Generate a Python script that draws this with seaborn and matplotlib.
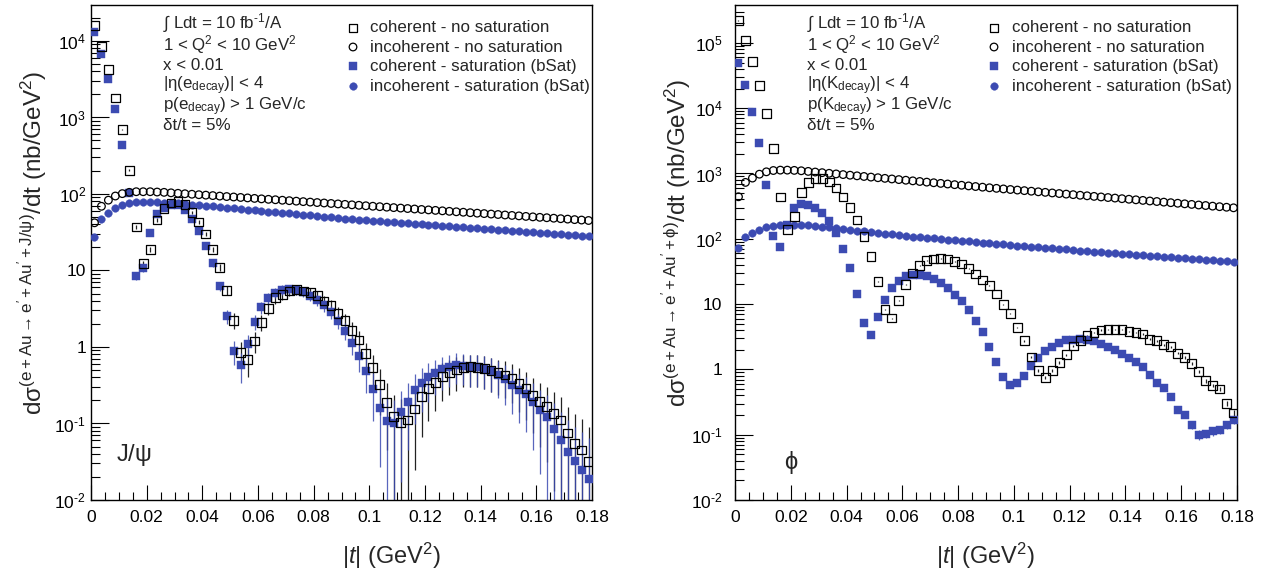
import numpy as np
import matplotlib
matplotlib.use("Agg")
import matplotlib.pyplot as plt
import seaborn as sns
from matplotlib.ticker import MultipleLocator, FixedLocator, FuncFormatter, NullFormatter

# ---------------- data ----------------
T_BIN_WIDTH = 0.0025
N_BINS = 72
t = (np.arange(N_BINS) + 0.5) * T_BIN_WIDTH

# J/psi panel
jpsi_coh = [16000, 8500, 4200, 1800, 700, 205, 37, 12.3, 19, 45.6,
            65, 76, 80, 72, 57, 43, 30, 19, 11, 5.5,
            2.24, 0.85, 0.68, 1.2, 2.1, 3.2, 4.4, 4.9, 5.4, 5.6,
            5.4, 5.1, 4.7, 4.0, 3.46, 2.77, 2.2, 1.66, 1.23, 0.83,
            0.54, 0.32, 0.19, 0.123, 0.103, 0.111, 0.155, 0.224, 0.285, 0.34,
            0.41, 0.46, 0.50, 0.54, 0.55, 0.54, 0.52, 0.49, 0.46, 0.43,
            0.39, 0.335, 0.29, 0.234, 0.195, 0.166, 0.135, 0.111, 0.075, 0.055,
            0.045, 0.032]
jpsi_coh_err = [42, 30.6, 21.5, 14, 8.8, 4.7, 2.0, 1.16, 1.45, 2.24,
                2.67, 2.9, 2.97, 2.8, 2.5, 2.17, 1.82, 1.45, 1.1, 0.78,
                0.50, 0.31, 0.27, 0.36, 0.48, 0.59, 0.70, 0.73, 0.77, 0.78,
                0.77, 0.75, 0.72, 0.66, 0.62, 0.55, 0.49, 0.43, 0.37, 0.30,
                0.24, 0.19, 0.145, 0.116, 0.106, 0.11, 0.13, 0.157, 0.177, 0.193,
                0.212, 0.225, 0.235, 0.244, 0.246, 0.244, 0.239, 0.232, 0.225, 0.217,
                0.207, 0.192, 0.179, 0.16, 0.146, 0.135, 0.122, 0.11, 0.091, 0.078,
                0.070, 0.059]
jpsi_inc = [42, 69, 83, 94, 101, 105, 107, 107, 107, 106,
            105, 103.5, 102.0, 100.6, 99.2, 97.8, 96.5, 95.2, 93.8, 92.5,
            91.3, 90.0, 88.8, 87.5, 86.3, 85.1, 84.0, 82.8, 81.7, 80.5,
            79.4, 78.3, 77.2, 76.2, 75.1, 74.1, 73.1, 72.1, 71.1, 70.1,
            69.1, 68.2, 67.2, 66.3, 65.4, 64.5, 63.6, 62.7, 61.9, 61.0,
            60.2, 59.3, 58.5, 57.7, 56.9, 56.1, 55.4, 54.6, 53.9, 53.1,
            52.4, 51.7, 50.9, 50.2, 49.5, 48.9, 48.2, 47.5, 46.9, 46.2,
            45.6, 45.0]
jpsi_coh_sat = [13000, 6800, 3200, 1300, 440, 102, 8.5, 10.7, 31, 54,
                66, 72, 71, 61, 47, 33, 21, 12.4, 6.2, 2.54,
                0.89, 0.59, 1.1, 2.14, 3.3, 4.36, 5.1, 5.6, 5.7, 5.6,
                5.3, 4.7, 4.1, 3.5, 2.9, 2.2, 1.64, 1.14, 0.76, 0.48,
                0.285, 0.16, 0.108, 0.10, 0.142, 0.19, 0.27, 0.335, 0.40, 0.46,
                0.51, 0.55, 0.58, 0.57, 0.55, 0.54, 0.52, 0.49, 0.435, 0.38,
                0.32, 0.275, 0.24, 0.19, 0.15, 0.123, 0.086, 0.061, 0.043, 0.032,
                0.025, 0.019]
jpsi_coh_sat_err = [37.8, 27.3, 18.8, 12, 7, 3.35, 0.97, 1.08, 1.85, 2.44,
                    2.7, 2.8, 2.8, 2.6, 2.27, 1.9, 1.52, 1.17, 0.83, 0.53,
                    0.31, 0.25, 0.35, 0.49, 0.60, 0.69, 0.75, 0.78, 0.79, 0.78,
                    0.76, 0.72, 0.67, 0.62, 0.56, 0.49, 0.42, 0.35, 0.29, 0.23,
                    0.177, 0.133, 0.109, 0.105, 0.125, 0.145, 0.172, 0.192, 0.21, 0.225,
                    0.237, 0.246, 0.253, 0.25, 0.246, 0.244, 0.239, 0.232, 0.219, 0.204,
                    0.188, 0.174, 0.162, 0.145, 0.128, 0.116, 0.097, 0.082, 0.069, 0.059,
                    0.052, 0.046]
jpsi_inc_sat = [27, 47, 56, 65, 72, 76, 78, 78.5, 78.5, 78,
                77.3, 76.4, 75.4, 74.2, 72.8, 71.4, 70.0, 68.7, 67.4, 66.1,
                64.9, 63.6, 62.4, 61.2, 60.1, 58.9, 57.8, 56.7, 55.6, 54.6,
                53.5, 52.5, 51.5, 50.5, 49.6, 48.6, 47.7, 47.0, 46.3, 45.6,
                44.9, 44.2, 43.5, 42.9, 42.2, 41.6, 41.0, 40.3, 39.7, 39.1,
                38.5, 38.0, 37.4, 36.8, 36.3, 35.7, 35.2, 34.7, 34.1, 33.6,
                33.1, 32.6, 32.1, 31.6, 31.2, 30.7, 30.2, 29.8, 29.3, 28.9,
                28.4, 28.0]

# phi panel
phi_coh = [2.2e5, 1.1e5, 5.2e4, 2.2e4, 8400, 2400, 436, 138, 217, 508,
           735, 832, 832, 740, 600, 436, 303, 194, 109, 54,
           22.4, 8.2, 6.1, 11.2, 19.8, 29.9, 39.2, 46.2, 49, 50.2,
           49, 45.2, 41.1, 34.8, 28.9, 23.4, 19.1, 14.3, 9.8, 7.1,
           4.4, 2.75, 1.55, 0.95, 0.76, 0.95, 1.28, 1.68, 2.28, 2.75,
           3.28, 3.70, 4.0, 4.06, 4.06, 4.06, 3.83, 3.70, 3.48, 2.89,
           2.75, 2.39, 2.23, 1.77, 1.53, 1.24, 0.92, 0.67, 0.57, 0.50,
           0.30, 0.215]
phi_coh_err = [23.5, 16.6, 11.4, 7.4, 4.6, 2.45, 1.04, 0.59, 0.74, 1.13,
               1.36, 1.44, 1.44, 1.36, 1.22, 1.04, 0.87, 0.70, 0.52, 0.37,
               0.24, 0.14, 0.12, 0.17, 0.22, 0.27, 0.31, 0.34, 0.35, 0.35,
               0.35, 0.34, 0.32, 0.29, 0.27, 0.24, 0.22, 0.19, 0.16, 0.13,
               0.10, 0.083, 0.062, 0.049, 0.044, 0.049, 0.057, 0.065, 0.075, 0.083,
               0.091, 0.096, 0.10, 0.10, 0.10, 0.10, 0.098, 0.096, 0.093, 0.085,
               0.083, 0.077, 0.075, 0.067, 0.062, 0.056, 0.048, 0.041, 0.038, 0.035,
               0.027, 0.023]
phi_inc = [440, 730, 850, 975, 1060, 1110, 1125, 1125, 1115, 1100,
           1076, 1052, 1029, 1006, 984, 962, 941, 920, 900, 880,
           861, 842, 824, 806, 788, 771, 754, 737, 721, 705,
           690, 674, 660, 645, 631, 617, 604, 592, 580, 568,
           557, 546, 535, 524, 514, 503, 493, 483, 474, 464,
           455, 446, 437, 428, 420, 411, 403, 395, 387, 379,
           372, 364, 357, 350, 343, 336, 329, 323, 316, 310,
           304, 298]
phi_coh_sat = [4.9e4, 2.24e4, 8800, 2960, 674, 110, 74, 164, 296, 345,
               333, 293, 248, 185, 123, 70, 35.7, 14.4, 5.1, 3.4,
               6.4, 11.7, 17.7, 22.8, 26.7, 28.2, 28.2, 26.7, 24.5, 21.0,
               17.7, 13.9, 11.0, 8.0, 5.6, 3.7, 2.2, 1.31, 0.77, 0.57,
               0.61, 0.80, 1.11, 1.5, 1.89, 2.2, 2.54, 2.79, 2.85, 2.9,
               2.85, 2.69, 2.45, 2.2, 1.96, 1.74, 1.5, 1.31, 1.09, 0.81,
               0.62, 0.52, 0.38, 0.24, 0.20, 0.142, 0.10, 0.104, 0.113, 0.118,
               0.142, 0.166]
phi_coh_sat_err = [11, 7.5, 4.7, 2.7, 1.3, 0.52, 0.43, 0.64, 0.86, 0.93,
                   0.91, 0.86, 0.79, 0.68, 0.55, 0.42, 0.30, 0.19, 0.11, 0.092,
                   0.13, 0.17, 0.21, 0.24, 0.26, 0.27, 0.27, 0.26, 0.25, 0.23,
                   0.21, 0.19, 0.17, 0.14, 0.12, 0.096, 0.074, 0.057, 0.044, 0.038,
                   0.039, 0.045, 0.053, 0.061, 0.069, 0.074, 0.08, 0.084, 0.084, 0.085,
                   0.084, 0.082, 0.078, 0.074, 0.07, 0.066, 0.061, 0.057, 0.052, 0.045,
                   0.039, 0.036, 0.031, 0.024, 0.022, 0.019, 0.016, 0.016, 0.017, 0.017,
                   0.019, 0.020]
phi_inc_sat = [72, 105, 123, 138, 150, 157, 161, 164, 164, 162,
               160, 157, 153, 149, 145, 141, 137, 133.5, 130, 126.5,
               123, 119.5, 116.5, 113, 110.6, 108.3, 106, 103.8, 101.6, 99.5,
               97.4, 95.3, 93.3, 91.4, 89.5, 87.6, 85.7, 83.9, 82.2, 80.4,
               78.8, 77.1, 75.5, 73.9, 72.5, 71.2, 69.9, 68.6, 67.4, 66.1,
               64.9, 63.7, 62.6, 61.4, 60.3, 59.2, 58.1, 57.0, 56.0, 55.0,
               54.0, 53.0, 52.0, 51.1, 50.1, 49.2, 48.3, 47.4, 46.6, 45.7,
               44.9, 44.0]

legend_labels = ["coherent - no saturation", "incoherent - no saturation",
                 "coherent - saturation (bSat)", "incoherent - saturation (bSat)"]
x_ticks = [0, 0.02, 0.04, 0.06, 0.08, 0.1, 0.12, 0.14, 0.16, 0.18]
jpsi_decades = [-2, -1, 0, 1, 2, 3, 4]
phi_decades = [-2, -1, 0, 1, 2, 3, 4, 5]

# ---------------- style ----------------
sns.set_theme(style="ticks")
plt.rcParams["font.family"] = ["Liberation Sans", "DejaVu Sans"]
plt.rcParams["mathtext.fontset"] = "custom"
plt.rcParams["mathtext.rm"] = "Liberation Sans"
plt.rcParams["mathtext.it"] = "Liberation Sans:italic"
plt.rcParams["mathtext.bf"] = "Liberation Sans:bold"
plt.rcParams["mathtext.default"] = "regular"

BLUE = "#3c4bb2"
HY = "\u2010"  # short hyphen as used by the original for negative exponents
W, H = 1276, 570
fig = plt.figure(figsize=(W / 100, H / 100), dpi=100)
ax1 = fig.add_axes([91 / W, 1 - 500 / H, 501 / W, 495 / H])
ax2 = fig.add_axes([735 / W, 1 - 500 / H, 502 / W, 495 / H])

SQ_OPEN = dict(marker="s", s=40, facecolor="none", edgecolor="black", linewidth=0.9)
CI_OPEN = dict(marker="o", s=30, facecolor="none", edgecolor="black", linewidth=0.9)
SQ_FULL = dict(marker="s", s=34, color=BLUE, edgecolor=BLUE, linewidth=0.3)
CI_FULL = dict(marker="o", s=30, color=BLUE, edgecolor=BLUE, linewidth=0.3)


def log_fmt(v, pos):
    e = int(round(np.log10(v)))
    if e == 0:
        return "1"
    if e == 1:
        return "10"
    if e < 0:
        return "10$^{%s%d}$" % (HY, -e)
    return "10$^{%d}$" % e


def draw_panel(ax, coh, coh_err, inc, coh_sat, coh_sat_err, inc_sat, ymax, decades,
               particle, xlab_x, ypad):
    ax.set_yscale("log", nonpositive="clip")
    ax.errorbar(t, coh, yerr=coh_err, fmt="none", ecolor="#222222", elinewidth=0.9,
                capsize=0, zorder=2)
    ax.errorbar(t, coh_sat, yerr=coh_sat_err, fmt="none", ecolor=BLUE, elinewidth=0.9,
                capsize=0, zorder=2, alpha=0.85)
    sns.scatterplot(x=t, y=coh, ax=ax, zorder=4, **SQ_OPEN)
    sns.scatterplot(x=t, y=inc, ax=ax, zorder=4, **CI_OPEN)
    sns.scatterplot(x=t, y=coh_sat, ax=ax, zorder=3, **SQ_FULL)
    sns.scatterplot(x=t, y=inc_sat, ax=ax, zorder=3, **CI_FULL)

    ax.set_xlim(0, 0.18)
    ax.set_ylim(1e-2, ymax)
    ax.set_xticks(x_ticks)
    ax.xaxis.set_major_formatter(FuncFormatter(lambda v, p: "%g" % v))
    ax.xaxis.set_minor_locator(MultipleLocator(0.005))
    majors = [10.0 ** e for e in decades]
    minors = [m * 10.0 ** e for e in decades for m in range(2, 10) if m * 10.0 ** e < ymax]
    ax.yaxis.set_major_locator(FixedLocator(majors))
    ax.yaxis.set_minor_locator(FixedLocator(minors))
    ax.yaxis.set_major_formatter(FuncFormatter(log_fmt))
    ax.yaxis.set_minor_formatter(NullFormatter())
    ax.tick_params(axis="both", which="both", direction="in", top=False, right=False,
                   bottom=True, left=True, colors="black", labelsize=12.5)
    ax.tick_params(axis="x", which="major", length=11, width=0.8, pad=7)
    ax.tick_params(axis="x", which="minor", length=5.5, width=0.8)
    ax.tick_params(axis="y", which="major", length=13, width=0.8, pad=ypad)
    ax.tick_params(axis="y", which="minor", length=6.5, width=0.8)
    for sp in ax.spines.values():
        sp.set_visible(True)
        sp.set_color("black")
        sp.set_linewidth(1.0)
    ax.set_xlabel(r"|$\mathit{t}$| (GeV$^{2}$)", fontsize=17)
    ax.xaxis.set_label_coords(xlab_x, -0.083)
    ax.set_ylabel(r"d$\sigma^{(e + Au \rightarrow e' + Au' + %s)}$/dt (nb/GeV$^{2}$)" % particle,
                  fontsize=17.5)
    ax.yaxis.set_label_coords(-0.082, 0.52)


draw_panel(ax1, jpsi_coh, jpsi_coh_err, jpsi_inc, jpsi_coh_sat, jpsi_coh_sat_err,
           jpsi_inc_sat, 2.95e4, jpsi_decades, r"J/\psi", 0.60, 3.5)
draw_panel(ax2, phi_coh, phi_coh_err, phi_inc, phi_coh_sat, phi_coh_sat_err,
           phi_inc_sat, 3.8e5, phi_decades, r"\phi", 0.50, 9)


def fx(px):
    return px / W


def fy(py):
    return 1 - py / H


def info_block(x0, decay):
    lines = ["\u222b Ldt = 10 fb$^{%s1}$/A" % HY,
             "1 < Q$^{2}$ < 10 GeV$^{2}$",
             "x < 0.01",
             "|\u03b7(%s$_{decay}$)| < 4" % decay,
             "p(%s$_{decay}$) > 1 GeV/c" % decay,
             "\u03b4t/t = 5%"]
    ys = [23, 45, 66, 86, 107, 126]
    for s, y in zip(lines, ys):
        fig.text(fx(x0), fy(y), s, fontsize=12.2, va="center", ha="left")


def legend_block(ax, xm, xt):
    ys = [28, 47, 66, 86]
    styles = [SQ_OPEN, CI_OPEN, SQ_FULL, CI_FULL]
    for lab, y, st in zip(legend_labels, ys, styles):
        fig.text(fx(xt), fy(y), lab, fontsize=12.2, va="center", ha="left")
        ax.scatter([fx(xm)], [fy(y)], transform=fig.transFigure, clip_on=False,
                   zorder=10, **st)


info_block(163, "e")
info_block(807, "K")
legend_block(ax1, 353, 370)
legend_block(ax2, 994, 1012)

fig.text(fx(134), fy(455), r"J/$\psi$", fontsize=17, ha="center", va="center")
fig.text(fx(791), fy(462), r"$\phi$", fontsize=17, ha="center", va="center")

fig.savefig("out.png", dpi=100)
